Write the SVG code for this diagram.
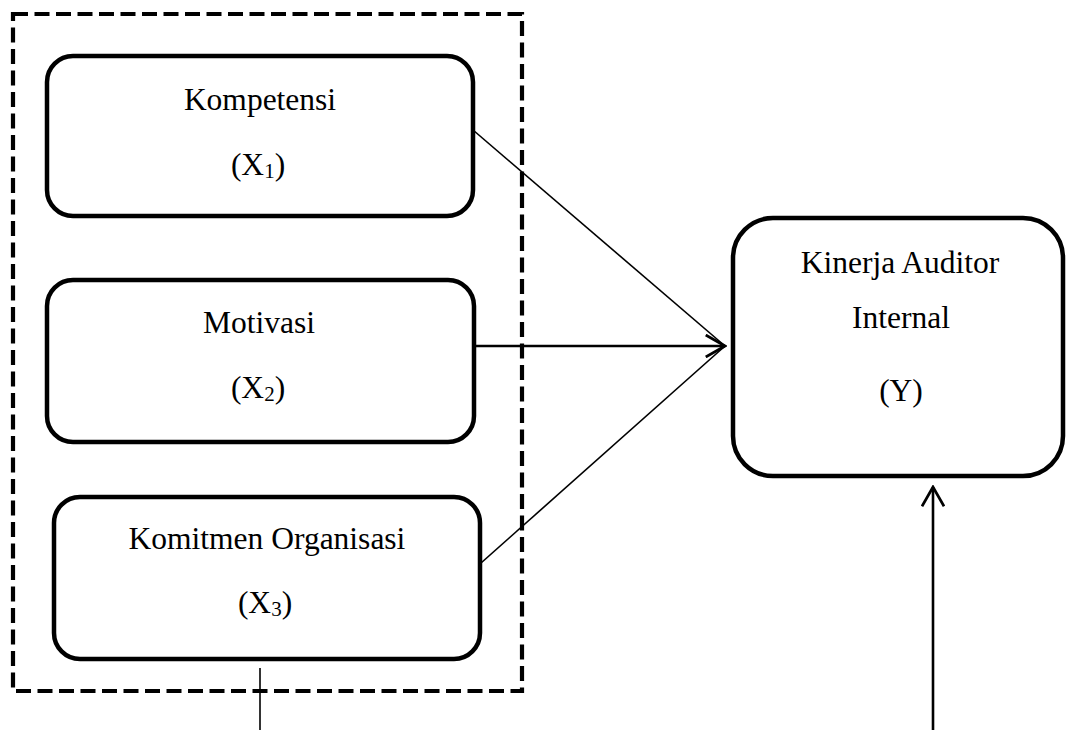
<svg xmlns="http://www.w3.org/2000/svg" width="1066" height="730" viewBox="0 0 1066 730">
<style>
.box{fill:#fff;stroke:#000;stroke-width:4.5}
.grp{fill:none;stroke:#000;stroke-width:4.2;stroke-dasharray:15 6.5}
.t{font-family:"Liberation Serif","Times New Roman",serif;font-size:31.5px;fill:#000;text-anchor:middle}
.sub{font-size:21px}
.ln{stroke:#000;fill:none;stroke-linecap:butt}
</style>
<defs>
<marker id="open" viewBox="0 0 24 26" refX="22" refY="13" markerWidth="22" markerHeight="24" markerUnits="userSpaceOnUse" orient="auto">
<path d="M1,1 L22,13 L1,25" fill="none" stroke="#000" stroke-width="3"/>
</marker>
</defs>
<rect id="group" class="grp" x="13" y="14" width="509" height="677"/>
<g id="node-x1">
<rect class="box" x="47" y="56" width="426" height="160" rx="26"/>
<text class="t" x="260" y="110">Kompetensi</text>
<text class="t" x="258" y="175">(X<tspan class="sub" dy="3">1</tspan><tspan dy="-3">)</tspan></text>
</g>
<g id="node-x2">
<rect class="box" x="47" y="280" width="427" height="162" rx="26"/>
<text class="t" x="259" y="333">Motivasi</text>
<text class="t" x="258" y="398">(X<tspan class="sub" dy="3">2</tspan><tspan dy="-3">)</tspan></text>
</g>
<g id="node-x3">
<rect class="box" x="54" y="497" width="426" height="162" rx="26"/>
<text class="t" x="267" y="549">Komitmen Organisasi</text>
<text class="t" x="265" y="613">(X<tspan class="sub" dy="3">3</tspan><tspan dy="-3">)</tspan></text>
</g>
<g id="node-y">
<rect class="box" x="733" y="218" width="330" height="258" rx="40"/>
<text class="t" x="900" y="273">Kinerja Auditor</text>
<text class="t" x="901" y="328">Internal</text>
<text class="t" x="901" y="401">(Y)</text>
</g>
<g id="connectors">
<line class="ln" x1="473" y1="130" x2="725" y2="346" stroke-width="1.6"/>
<line class="ln" x1="481" y1="563" x2="725" y2="346" stroke-width="1.6"/>
<line class="ln" x1="475" y1="346" x2="725" y2="346" stroke-width="2.6" marker-end="url(#open)"/>
<line class="ln" x1="260" y1="668" x2="260" y2="730" stroke-width="1.6"/>
<line class="ln" x1="933" y1="730" x2="933" y2="487" stroke-width="2.6" marker-end="url(#open)"/>
</g>
</svg>
